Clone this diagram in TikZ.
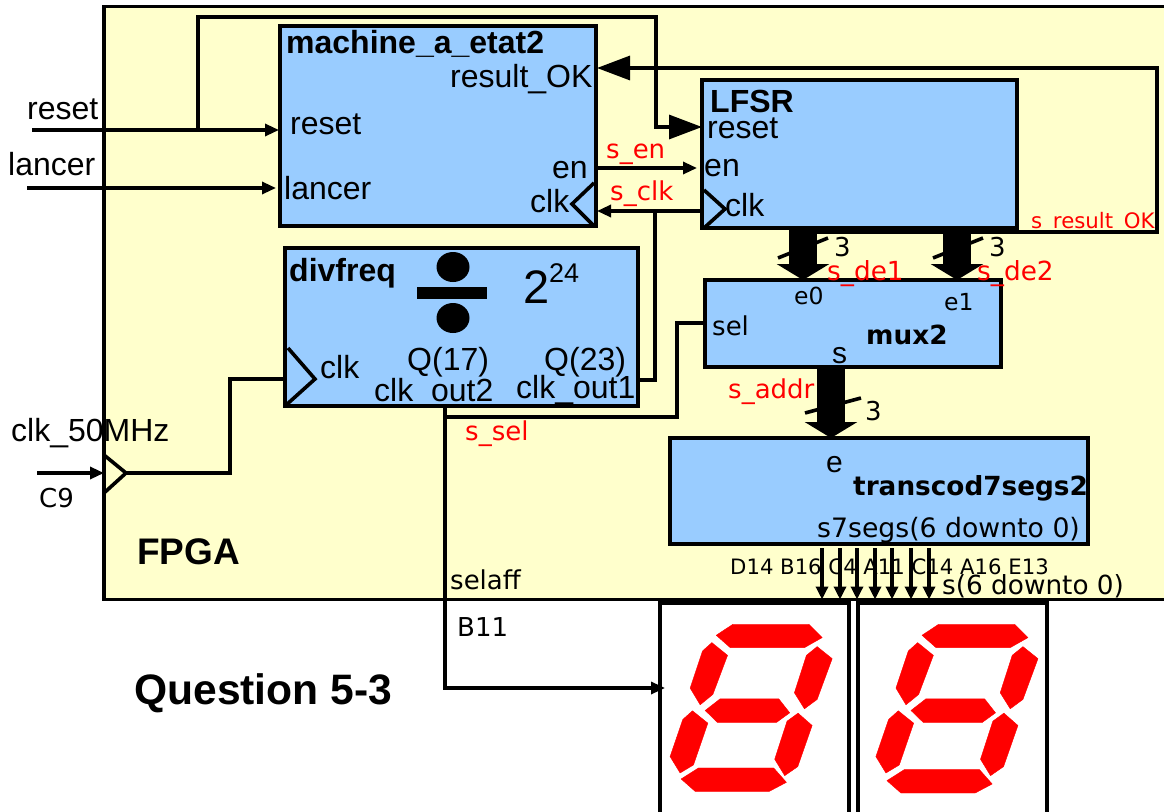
\documentclass[tikz,border=0pt]{standalone}
\usepackage{fontspec}
\setmainfont{Liberation Sans}
\newfontfamily\dv{DejaVu Sans}
\usetikzlibrary{arrows.meta,calc}
\definecolor{fpgafill}{HTML}{FFFFCC}
\definecolor{blockfill}{HTML}{99CCFF}
\tikzset{
  blockbox/.style={draw=black,line width=3.6pt,fill=blockfill,anchor=north west,inner sep=0pt,outer sep=0pt,line join=miter},
  framebox/.style={draw=black,anchor=north west,inner sep=0pt,outer sep=0pt},
  wire/.style={draw=black,line width=3.2pt},
  arr/.style={wire,-{Triangle[length=14pt,width=12pt]}},
  bigarr/.style={wire,-{Triangle[length=33pt,width=24pt]}},
  bus/.style={draw=black,line width=28pt,-{Triangle[length=16pt,width=52pt]}},
  smallarr/.style={draw=black,line width=3.4pt,-{Triangle[length=13pt,width=12pt]}},
  tick/.style={draw=black,line width=3.6pt},
  clockmark/.style={draw=black,line width=3.6pt,line join=miter},
  seg/.style={fill=red,draw=red,line width=.4pt,line join=round},
  lab/.style={anchor=base west,inner sep=0pt,font=\fontsize{32}{33}\selectfont},
  labb/.style={anchor=base west,inner sep=0pt,font=\fontsize{32}{33}\selectfont\bfseries},
  dl/.style={anchor=base west,inner sep=0pt,font=\dv\fontsize{26}{28}\selectfont},
  dlb/.style={anchor=base west,inner sep=0pt,font=\dv\fontsize{26.3}{28}\selectfont\bfseries},
  sig/.style={anchor=base west,inner sep=0pt,text=red,font=\dv\fontsize{26}{28}\selectfont},
  port/.style={anchor=base west,inner sep=0pt,font=\fontsize{30}{31}\selectfont},
}
\newcommand{\digitsegs}[2]{%
  \begin{scope}[shift={(640+#1,530)},x=0.3342pt,y=-0.3342pt]
    \fill[seg] (228,315)--(278,282)--(505,282)--(545,322)--(492,352)--(270,352)--cycle;
    \fill[seg] (215,337)--(262,375)--(218,492)--(180,523)--(150,473)--(187,362)--cycle;
    \fill[seg] (530,349)--(575,385)--(530,507)--(492,535)--(462,487)--(498,375)--cycle;
    \fill[seg] (195,540)--(240,505)--(415,505)--(448,547)--(408,576)--(232,576)--cycle;
    \fill[seg] (157,541)--(203,578)--(160,703)--(120,727)--(90,678)--(128,567)--cycle;
    \fill[seg] (473,548)--(515,585)--(472,708)--(433,735)--(403,686)--(440,572)--cycle;
    \fill[seg] (123,{745+#2})--(175,{712+#2})--(400,{712+#2})--(438,{755+#2})--(387,{782+#2})--(165,{782+#2})--cycle;
  \end{scope}}
\begin{document}
\begin{tikzpicture}[x=1pt,y=-1pt]
\useasboundingbox (0,0) rectangle (1164,811);
\clip (0,0) rectangle (1164,811);
% FPGA
\node[framebox,line width=3.4pt,fill=fpgafill,minimum width=1100pt,minimum height=593pt] (fpga) at (104,6.5) {};
% displays
\node[framebox,line width=4pt,fill=white,minimum width=189pt,minimum height=260pt] (disp1) at (660,603) {};
\node[framebox,line width=4pt,fill=white,minimum width=189pt,minimum height=260pt] (disp2) at (858,603) {};
\digitsegs{0}{0}
\digitsegs{205.8}{5}
% blocks
\node[blockbox,minimum width=316pt,minimum height=200pt] (mae) at (280,26) {};
\node[blockbox,minimum width=315pt,minimum height=148pt] (lfsr) at (702,80) {};
\node[blockbox,minimum width=353pt,minimum height=158pt] (div) at (285,248) {};
\node[blockbox,minimum width=296pt,minimum height=87pt] (mux) at (705,280) {};
\node[blockbox,minimum width=418pt,minimum height=106pt] (trans) at (670,438) {};
\node[sig,font=\dv\fontsize{21.3}{22}\selectfont] (t29) at (1031,228) {s\_result\_OK};
% ports
\coordinate (inreset) at (32,130);
\coordinate (inlancer) at (27,188);
\coordinate (inclk) at (37,473);
\coordinate (clkbuf) at (126,473);
\coordinate (branch) at (198,130);
\coordinate (maereset) at (279,130);
\coordinate (maelancer) at (276,188);
\coordinate (maeok) at (597,68);
\coordinate (maeen) at (596,168);
\coordinate (maeclk) at (597,211);
\coordinate (lfsrreset) at (702,127);
\coordinate (lfsren) at (697,168);
\coordinate (lfsrclk) at (702,211);
\coordinate (lfsrok) at (803,232);
\coordinate (divclk) at (285,379);
\coordinate (divout1) at (638,380);
\coordinate (divout2) at (445,406);
\coordinate (muxsel) at (705,323);
\coordinate (dispin) at (665,688);
\coordinate (fpgaedge) at (104,473);
% clock marks
\draw[clockmark] (104,455)--(126,473)--(104,493);
\draw[clockmark] (288,348)--(315,379)--(285,406);
\draw[clockmark] (594,183)--(572,204)--(594,226);
\draw[clockmark] (704,190)--(725,209)--(704,228);
% wires
\draw[arr] (inreset) -- (maereset);
\draw[arr] (inlancer) -- (maelancer);
\draw[bigarr] (branch) |- (198,17) -| (656,127) -- (lfsrreset);
\draw[arr] (inclk) -- (fpgaedge);
\draw[wire] (clkbuf) -- (230,473) |- (divclk);
\draw[arr] (maeen) -- (lfsren);
\draw[arr] (lfsrclk) -- (maeclk);
\draw[wire] (divout1) -| (655,211);
\draw[bigarr] (lfsrok) -- (1157,232) |- (maeok);
\draw[wire] (divout2) -- (445,417) -- (677,417) |- (muxsel);
\draw[arr] (divout2) |- (dispin);
% buses
\draw[bus] (lfsr.south -| 803,0) -- (mux.north -| 803,0);
\draw[bus] (lfsr.south -| 957,0) -- (mux.north -| 957,0);
\draw[bus] (mux.south -| 831,0) -- (trans.north -| 831,0);
\draw[tick] (778,258)--(828,238);
\draw[tick] (933,258)--(983,238);
\draw[tick] (805,413)--(861,398);
% seven lines
\foreach \xx in {822,840,857,875,892,911,929}
  \draw[smallarr] (trans.south -| \xx,0) ++(0,4) -- (fpga.south -| \xx,0);
% divide sign
\fill[black] (453,267) circle [x radius=16.5pt,y radius=15pt];
\fill[black] (453,318) circle [x radius=16.5pt,y radius=15pt];
\fill[black] (417,287) rectangle (487,299);
% texts
\node[lab] (t1) at (27,119) {reset};
\node[lab] (t2) at (8,175) {lancer};
\node[labb] (t3) at (286,53) {machine\_a\_etat2};
\node[lab] (t4) at (450,87) {result\_OK};
\node[lab] (t5) at (290,134) {reset};
\node[lab] (t6) at (284,199) {lancer};
\node[lab] (t7) at (552,178) {en};
\node[lab] (t8) at (530,212) {clk};
\node[labb] (t9) at (710,112) {LFSR};
\node[lab] (t10) at (707,138) {reset};
\node[lab] (t11) at (704,176) {en};
\node[lab] (t12) at (725,216) {clk};
\node[labb] (t13) at (289,281) {divfreq};
\node[anchor=base west,inner sep=0pt,font=\fontsize{47}{50}\selectfont] (t14) at (523,303) {2};
\node[anchor=base west,inner sep=0pt,font=\fontsize{27}{28}\selectfont] (t15) at (549,282) {24};
\node[lab] (t16) at (320,378) {clk};
\node[lab] (t17) at (407,370) {Q(17)};
\node[lab] (t18) at (374,401) {clk\_out2};
\node[lab] (t19) at (544,370) {Q(23)};
\node[lab] (t20) at (516,398) {clk\_out1};
\node[lab] (t21) at (11,441) {clk\_50MHz};
\node[dl] (t22) at (39,507) {C9};
\node[anchor=base west,inner sep=0pt,font=\fontsize{37}{38}\selectfont\bfseries] (t23) at (137,564) {FPGA};
\node[anchor=base west,inner sep=0pt,font=\fontsize{42.6}{44}\selectfont\bfseries] (t24) at (134,704) {Question 5-3};
\node[dl] (t25) at (450,589) {selaff};
\node[dl] (t26) at (457,636) {B11};
\node[sig] (t27) at (606,158) {s\_en};
\node[sig] (t28) at (610,200) {s\_clk};
\node[sig,font=\dv\fontsize{26.3}{28}\selectfont] (t30) at (827,280) {s\_de1};
\node[sig,font=\dv\fontsize{26.3}{28}\selectfont] (t31) at (977,280) {s\_de2};
\node[sig] (t32) at (728,398) {s\_addr};
\node[sig] (t33) at (465,440) {s\_sel};
\node[dl] (t34) at (834,256) {3};
\node[dl] (t35) at (989,256) {3};
\node[dl] (t36) at (865,420) {3};
\node[dl,font=\dv\fontsize{23.5}{24}\selectfont] (t37) at (794,304) {e0};
\node[dl,font=\dv\fontsize{23.5}{24}\selectfont] (t38) at (944,310) {e1};
\node[dl] (t39) at (712,335) {sel};
\node[port] (t40) at (832,363) {s};
\node[dlb] (t41) at (866,344) {mux2};
\node[dlb] (t42) at (853,495) {transcod7segs2};
\node[port] (t43) at (826,472) {e};
\node[dl,font=\dv\fontsize{26.7}{28}\selectfont] (t44) at (817,537) {s7segs(6 downto 0)};
\node[dl,font=\dv\fontsize{21.2}{22}\selectfont] (t45) at (730,574) {D14 B16 C4 A11 C14 A16 E13};
\node[dl,font=\dv\fontsize{26.3}{28}\selectfont] (t46) at (942,594) {s(6 downto 0)};
\end{tikzpicture}
\end{document}
